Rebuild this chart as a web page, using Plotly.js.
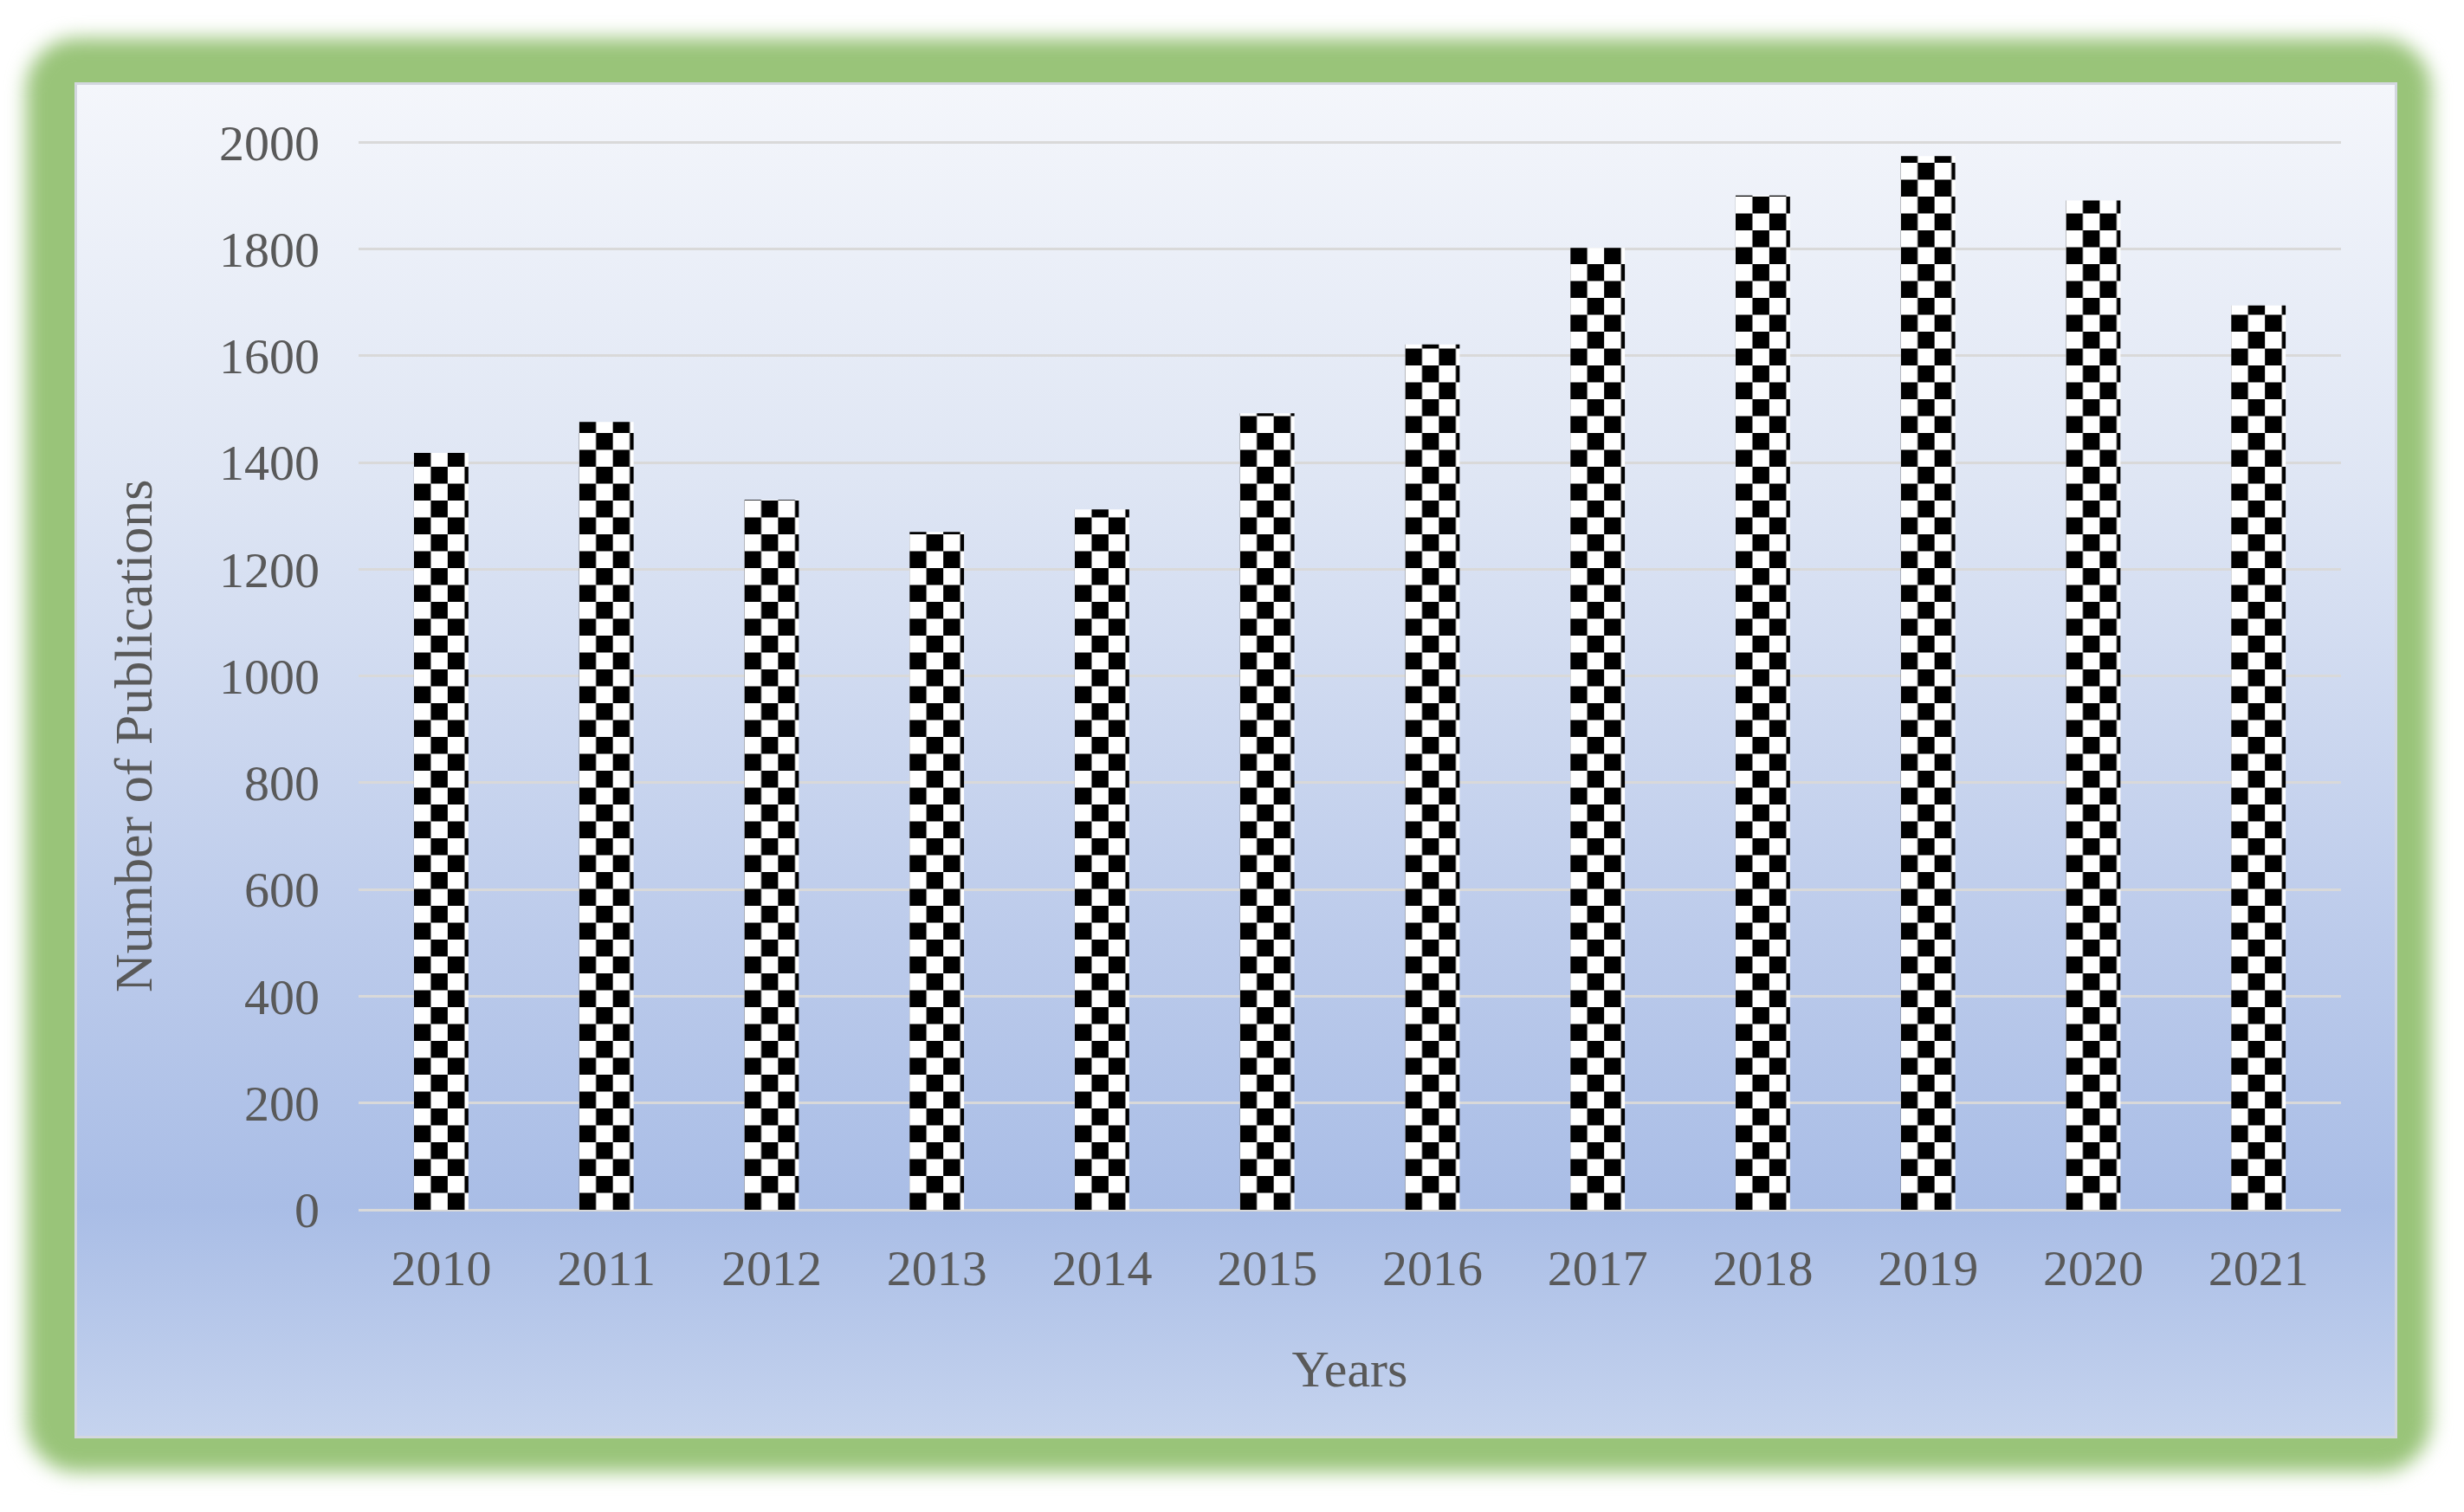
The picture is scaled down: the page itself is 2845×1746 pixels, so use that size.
<!DOCTYPE html>
<html>
<head>
<meta charset="utf-8">
<script src="https://cdn.plot.ly/plotly-3.0.1.min.js"></script>
<style>
  html, body { margin: 0; padding: 0; background: #ffffff; }
  body { width: 2845px; height: 1746px; position: relative; overflow: hidden; }
  /* soft green frame */
  #frame {
    position: absolute; left: 30px; top: 44px; width: 2777px; height: 1656px;
    border-radius: 60px; background: #99c479; filter: blur(11px);
  }
  /* light blue gradient panel */
  #panel {
    position: absolute; left: 86px; top: 95px; width: 2676px; height: 1560px;
    border: 3px solid #d3d7df;
    background: linear-gradient(to bottom, #f4f6fb 0%, #dfe6f4 29%, #bccbeb 63%, #a9bde6 83%, #c5d3ee 100%);
  }
  #chart { position: absolute; left: 0; top: 0; width: 2845px; height: 1746px; }
</style>
</head>
<body>
<div id="frame"></div>
<div id="panel"></div>
<div id="chart"></div>
<script>
const years = ['2010', '2011', '2012', '2013', '2014', '2015', '2016', '2017', '2018', '2019', '2020', '2021'];
const publications = [1418, 1476, 1330, 1270, 1312, 1492, 1621, 1802, 1900, 1974, 1891, 1694];
const yTicks = [0, 200, 400, 600, 800, 1000, 1200, 1400, 1600, 1800, 2000];

const textColor = '#595959';
const gridColor = '#d9d9d9';

const trace = {
    type: 'bar',
    x: years,
    y: publications,
    marker: { color: '#000000', line: { width: 0 } },
    hoverinfo: 'skip'
};

const layout = {
    width: 2845,
    height: 1746,
    margin: { l: 414, r: 142, t: 163, b: 349 },
    paper_bgcolor: 'rgba(0,0,0,0)',
    plot_bgcolor: 'rgba(0,0,0,0)',
    font: { family: '"Liberation Serif", "Times New Roman", serif', size: 58, color: textColor },
    bargap: 0.67,
    showlegend: false,
    xaxis: {
        type: 'category',
        showgrid: false,
        zeroline: false,
        showline: false,
        ticks: '',
        ticklabelstandoff: 28,
        title: { text: 'Years', standoff: 62, font: { size: 60 } }
    },
    yaxis: {
        range: [0, 2002],
        tickvals: yTicks,
        showgrid: true,
        gridcolor: gridColor,
        gridwidth: 3,
        zeroline: true,
        zerolinecolor: gridColor,
        zerolinewidth: 3,
        showline: false,
        ticks: '',
        ticklabelstandoff: 44
    },
    annotations: [{
        text: 'Number of Publications',
        textangle: -90,
        xref: 'paper', yref: 'paper',
        x: -0.1136, y: 0.4433,
        xanchor: 'center', yanchor: 'middle',
        showarrow: false,
        font: { size: 62, color: textColor }
    }]
};

// checkerboard fill for the bars
function checkerBars(gd) {
    const ns = 'http://www.w3.org/2000/svg';
    const svg = gd.querySelector('svg.main-svg');
    let defs = svg.querySelector('defs');
    if (!defs) {
        defs = document.createElementNS(ns, 'defs');
        svg.insertBefore(defs, svg.firstChild);
    }
    const sq = 19.5;
    gd.querySelectorAll('.bars .point path').forEach(function (path, i) {
        const box = path.getBBox();
        const pat = document.createElementNS(ns, 'pattern');
        pat.setAttribute('id', 'checker' + i);
        pat.setAttribute('patternUnits', 'userSpaceOnUse');
        pat.setAttribute('x', box.x);
        pat.setAttribute('y', box.y + box.height);
        pat.setAttribute('width', 2 * sq);
        pat.setAttribute('height', 2 * sq);
        const cells = [[0, 0, '#ffffff', 2 * sq], [sq, 0, '#000000', sq], [0, sq, '#000000', sq]];
        cells.forEach(function (c) {
            const r = document.createElementNS(ns, 'rect');
            r.setAttribute('x', c[0]);
            r.setAttribute('y', c[1]);
            r.setAttribute('width', c[3]);
            r.setAttribute('height', c[3]);
            r.setAttribute('fill', c[2]);
            pat.appendChild(r);
        });
        defs.appendChild(pat);
        path.style.fill = 'url(#checker' + i + ')';
    });
}

Plotly.newPlot('chart', [trace], layout, { staticPlot: true }).then(checkerBars);
</script>
</body>
</html>
